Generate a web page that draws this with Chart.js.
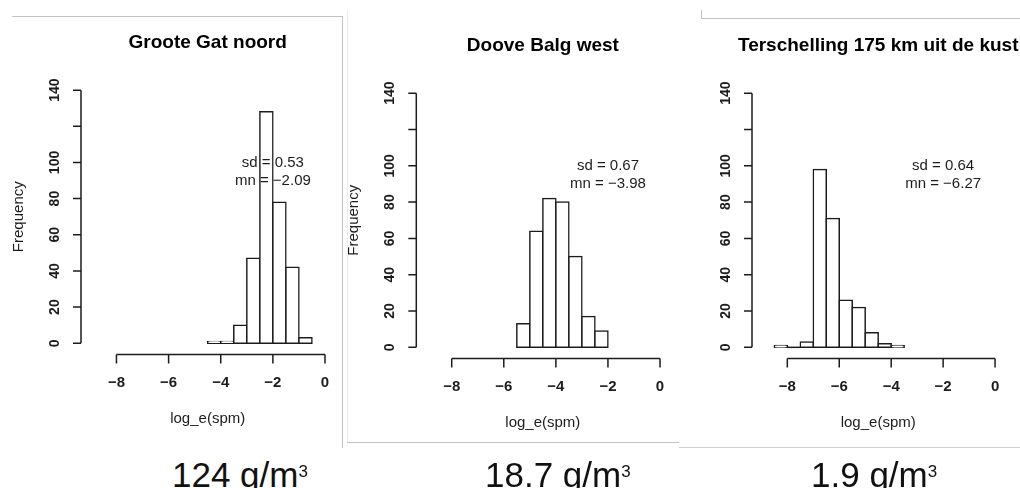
<!DOCTYPE html>
<html lang="nl">
<head>
<meta charset="utf-8">
<title>Verdeling log_e(spm) per meetlocatie</title>
<script src="https://cdn.jsdelivr.net/npm/chart.js@4.4.1/dist/chart.umd.min.js"></script>
<style>
  html, body { margin: 0; padding: 0; background: #fff; }
  body {
    width: 1020px; height: 488px; position: relative; overflow: hidden;
    font-family: "Liberation Sans", Arial, Helvetica, sans-serif;
  }
  .panel { position: absolute; top: 0; }
  .panel canvas { display: block; }
  .rule { position: absolute; background: #c2c2c2; }
  .conc {
    position: absolute; top: 457px; font-size: 35px; line-height: 35px;
    color: #111; white-space: nowrap;
  }
  .conc sup { font-size: 17px; position: relative; top: -10px; vertical-align: baseline; }
</style>
</head>
<body>

<div class="panel" style="left:0px"><canvas id="groote" width="343" height="448"></canvas></div>
<div class="panel" style="left:343px"><canvas id="doove" width="337" height="448"></canvas></div>
<div class="panel" style="left:680px"><canvas id="terschelling" width="340" height="448"></canvas></div>

<!-- slide frame lines -->
<div class="rule" style="left:12px;top:16px;width:331px;height:1px"></div>
<div class="rule" style="left:342px;top:16px;width:1px;height:432px"></div>
<div class="rule" style="left:347px;top:10px;width:1px;height:432px;background:#ececec"></div>
<div class="rule" style="left:347px;top:442px;width:332px;height:1px"></div>
<div class="rule" style="left:701px;top:18px;width:319px;height:1px"></div>
<div class="rule" style="left:701px;top:10px;width:1px;height:8px"></div>
<div class="rule" style="left:679px;top:447px;width:341px;height:1px;background:#d0d0d0"></div>

<div class="conc" style="left:172px">124 g/m<sup>3</sup></div>
<div class="conc" style="left:485px">18.7 g/m<sup>3</sup></div>
<div class="conc" style="left:811px">1.9 g/m<sup>3</sup></div>

<script>
// histogram bins: lower edge of each 0.5-wide bin and its count
const BIN_WIDTH = 0.5;

const grooteEdges = [-4.5, -4, -3.5, -3, -2.5, -2, -1.5, -1];
const grooteCounts = [1, 1, 10, 47, 128, 78, 42, 3];
const grooteSd = 0.53;
const grooteMean = -2.09;

const dooveEdges = [-5.5, -5, -4.5, -4, -3.5, -3, -2.5];
const dooveCounts = [13, 64, 82, 80, 50, 17, 9];
const dooveSd = 0.67;
const dooveMean = -3.98;

const terschEdges = [-8.5, -8, -7.5, -7, -6.5, -6, -5.5, -5, -4.5, -4];
const terschCounts = [1, 0, 3, 98, 71, 26, 22, 8, 2, 1];
const terschSd = 0.64;
const terschMean = -6.27;

// axes as R draws them (120 label dropped for lack of room)
const xTicks = [-8, -6, -4, -2, 0];
const xTickLabels = ['\u22128', '\u22126', '\u22124', '\u22122', '0'];
const yTicks = [0, 20, 40, 60, 80, 100, 120, 140];
const yTickLabels = ['0', '20', '40', '60', '80', '100', '', '140'];
const XLIM = [-9, 0];
const YLIM = [0, 140];

const FONT = '"Liberation Sans", Arial, Helvetica, sans-serif';
const INK = '#1c1c1c';

function fmt(v) {
  return v.toFixed(2).replace('-', '\u2212');
}

// base-graphics look: axes offset from the plot region, rotated y labels
const rStyleAxes = {
  id: 'rStyleAxes',
  afterDatasetsDraw(chart, args, opts) {
    const { ctx, chartArea: area, scales: { x, y } } = chart;
    const midX = (area.left + area.right) / 2;
    ctx.save();
    ctx.strokeStyle = INK;
    ctx.fillStyle = INK;
    ctx.lineWidth = 1.5;

    // empty bins still get their outline along the baseline
    const base = y.getPixelForValue(0);
    ctx.beginPath();
    chart.data.datasets[0].data.forEach(p => {
      if (p.y !== 0) return;
      ctx.moveTo(x.getPixelForValue(p.x - BIN_WIDTH / 2), base);
      ctx.lineTo(x.getPixelForValue(p.x + BIN_WIDTH / 2), base);
    });
    ctx.stroke();

    // x axis
    const axY = area.bottom + 1;
    ctx.beginPath();
    ctx.moveTo(x.getPixelForValue(xTicks[0]), axY);
    ctx.lineTo(x.getPixelForValue(xTicks[xTicks.length - 1]), axY);
    x.ticks.forEach(t => {
      const px = x.getPixelForValue(t.value);
      ctx.moveTo(px, axY);
      ctx.lineTo(px, axY + 9);
    });
    ctx.stroke();

    ctx.font = 'bold 15px ' + FONT;
    ctx.textAlign = 'center';
    ctx.textBaseline = 'middle';
    x.ticks.forEach((t, i) => {
      ctx.fillText(xTickLabels[i], x.getPixelForValue(t.value), axY + 28);
    });

    // y axis
    const axX = area.left;
    ctx.beginPath();
    ctx.moveTo(axX, y.getPixelForValue(yTicks[0]));
    ctx.lineTo(axX, y.getPixelForValue(yTicks[yTicks.length - 1]));
    y.ticks.forEach(t => {
      const py = y.getPixelForValue(t.value);
      ctx.moveTo(axX, py);
      ctx.lineTo(axX - 8, py);
    });
    ctx.stroke();

    ctx.font = 'bold 14px ' + FONT;
    y.ticks.forEach((t, i) => {
      if (!yTickLabels[i]) return;
      ctx.save();
      ctx.translate(axX - 26, y.getPixelForValue(t.value));
      ctx.rotate(-Math.PI / 2);
      ctx.fillText(yTickLabels[i], 0, 0);
      ctx.restore();
    });

    // title and axis labels
    ctx.font = 'bold 19px ' + FONT;
    ctx.fillStyle = '#000';
    ctx.fillText(opts.title, midX, area.top - 37);

    ctx.font = '15px ' + FONT;
    ctx.fillStyle = INK;
    ctx.fillText('log_e(spm)', midX, area.bottom + 65);

    if (opts.ylab) {
      ctx.save();
      ctx.translate(area.left - 62, (area.top + area.bottom) / 2);
      ctx.rotate(-Math.PI / 2);
      ctx.fillText(opts.ylab, 0, 0);
      ctx.restore();
    }

    // summary stats, written over the bars
    const sx = x.getPixelForValue(opts.statX);
    ctx.fillText('sd = ' + fmt(opts.sd), sx, y.getPixelForValue(opts.sdY));
    ctx.fillText('mn = ' + fmt(opts.mn), sx, y.getPixelForValue(opts.mnY));
    ctx.restore();
  }
};

function extend(lim) {
  const pad = (lim[1] - lim[0]) * 0.04;
  return [lim[0] - pad, lim[1] + pad];
}

function makeHistogram(id, edges, counts, meta) {
  const points = edges.map((e, i) => ({ x: e + BIN_WIDTH / 2, y: counts[i] }));
  const [xMin, xMax] = extend(XLIM);
  const [yMin, yMax] = extend(YLIM);

  return new Chart(document.getElementById(id), {
    type: 'bar',
    data: {
      datasets: [{
        data: points,
        backgroundColor: '#fff',
        borderColor: INK,
        borderWidth: 1.5,
        borderSkipped: false,
        inflateAmount: 0.75,
        barPercentage: 1,
        categoryPercentage: 1
      }]
    },
    options: {
      responsive: false,
      animation: false,
      events: [],
      layout: { padding: meta.padding },
      scales: {
        x: {
          type: 'linear', min: xMin, max: xMax, offset: false, display: false,
          afterBuildTicks: s => { s.ticks = xTicks.map(v => ({ value: v })); }
        },
        y: {
          type: 'linear', min: yMin, max: yMax, display: false,
          afterBuildTicks: s => { s.ticks = yTicks.map(v => ({ value: v })); }
        }
      },
      plugins: {
        legend: { display: false },
        tooltip: { enabled: false },
        rStyleAxes: {
          title: meta.title,
          ylab: meta.ylab,
          sd: meta.sd,
          mn: meta.mn,
          statX: -2, sdY: 100, mnY: 90
        }
      }
    },
    plugins: [rStyleAxes]
  });
}

makeHistogram('groote', grooteEdges, grooteCounts, {
  title: 'Groote Gat noord', ylab: 'Frequency', sd: grooteSd, mn: grooteMean,
  padding: { left: 81, right: 8.6, top: 80, bottom: 94.6 }
});
makeHistogram('doove', dooveEdges, dooveCounts, {
  title: 'Doove Balg west', ylab: 'Frequency', sd: dooveSd, mn: dooveMean,
  padding: { left: 73.3, right: 10.6, top: 83, bottom: 90.5 }
});
makeHistogram('terschelling', terschEdges, terschCounts, {
  title: 'Terschelling 175 km uit de kust', ylab: null, sd: terschSd, mn: terschMean,
  padding: { left: 72, right: 15.6, top: 83, bottom: 90.5 }
});
</script>
</body>
</html>
